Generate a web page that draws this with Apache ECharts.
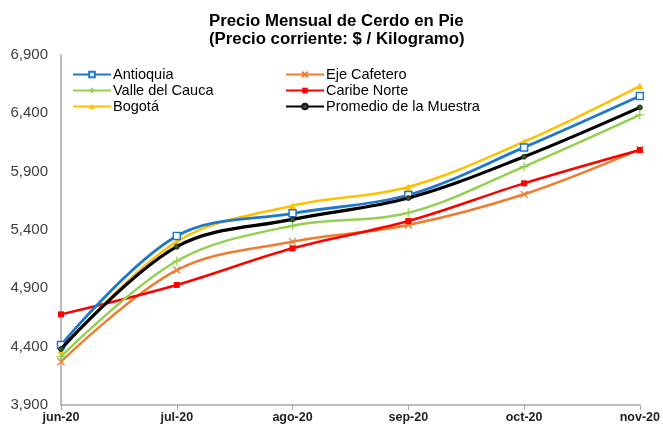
<!DOCTYPE html>
<html><head><meta charset="utf-8">
<script src="https://cdn.jsdelivr.net/npm/echarts@6/dist/echarts.min.js"></script>
<style>html,body{margin:0;padding:0;background:#fff}#c{width:663px;height:426px}</style>
</head><body><div id="c"></div>
<script>
const categories = ['jun-20','jul-20','ago-20','sep-20','oct-20','nov-20'];
const antioquia = [4414, 5349, 5543, 5700, 6108, 6549];
const ejeCafetero = [4271, 5057, 5300, 5443, 5706, 6091];
const valleCauca = [4314, 5134, 5437, 5548, 5943, 6386];
const caribeNorte = [4677, 4929, 5243, 5477, 5800, 6086];
const bogota = [4370, 5300, 5608, 5769, 6157, 6634];
const promedio = [4380, 5257, 5491, 5674, 6028, 6451];
const yMin = 3900, yMax = 6900, yStep = 500;

const chart = echarts.init(document.getElementById('c'));
const font = 'Liberation Sans, Arial, sans-serif';
function ser(name, data, color, width, symbol, size, itemStyle, z) {
  return {name, type:'line', data, smooth:0.35, symbol, symbolSize:size, showSymbol:true,
    lineStyle:{color, width}, itemStyle, z, emphasis:{disabled:true}};
}
const legendText = {fontFamily:font, fontSize:14.5, color:'#000', lineHeight:15, padding:[0,0,0,-3]};
chart.setOption({
  animation:false,
  title:{text:'Precio Mensual de Cerdo en Pie\n(Precio corriente: $ / Kilogramo)', left:204, top:7,
    textStyle:{fontFamily:font, fontSize:16.8, fontWeight:'bold', color:'#000', lineHeight:18}},
  legend:[
    {orient:'vertical', left:67, top:62, itemWidth:38, itemHeight:7, itemGap:1,
     data:['Antioquia','Valle del Cauca','Bogotá'], textStyle:legendText},
    {orient:'vertical', left:280, top:62, itemWidth:38, itemHeight:7, itemGap:1,
     data:['Eje Cafetero','Caribe Norte','Promedio de la Muestra'], textStyle:legendText}
  ],
  grid:{left:61, right:21, top:55, bottom:21, containLabel:false},
  xAxis:{type:'category', data:categories, boundaryGap:false,
    axisLine:{lineStyle:{color:'#A6A6A6', width:1.5}},
    axisTick:{show:true, length:5, lineStyle:{color:'#A6A6A6'}},
    axisLabel:{fontFamily:font, fontSize:12.5, fontWeight:'bold', color:'#222', margin:6}},
  yAxis:{type:'value', min:yMin, max:yMax, interval:100,
    axisLine:{show:true, lineStyle:{color:'#A6A6A6', width:1.5}},
    axisTick:{show:false}, splitLine:{show:false},
    axisLabel:{fontFamily:font, fontSize:15, color:'#404040', margin:13,
      formatter:v => ((v - yMin) % yStep === 0) ? v.toLocaleString('en-US') : ''}},
  series:[
    ser('Eje Cafetero', ejeCafetero, '#ED7D31', 2.5, 'path://M0,0L10,10M10,0L0,10', 7,
      {color:'#ED7D31', borderColor:'#ED7D31', borderWidth:1.2}, 2),
    ser('Caribe Norte', caribeNorte, '#FF0000', 2.5, 'rect', 6, {color:'#FF0000'}, 3),
    ser('Valle del Cauca', valleCauca, '#92D050', 2.5, 'path://M5,0L5,10M0,5L10,5', 9,
      {color:'#92D050', borderColor:'#92D050', borderWidth:1.2}, 4),
    ser('Bogotá', bogota, '#FFC000', 2.5, 'triangle', 7, {color:'#FFC000'}, 5),
    ser('Antioquia', antioquia, '#1F78C8', 2.8, 'rect', 7,
      {color:'#fff', borderColor:'#1F78C8', borderWidth:1.5}, 6),
    ser('Promedio de la Muestra', promedio, '#000000', 3.2, 'circle', 5,
      {color:'#2F5A1E', borderColor:'#1a1a1a', borderWidth:0.8}, 7)
  ]
});
</script></body></html>
